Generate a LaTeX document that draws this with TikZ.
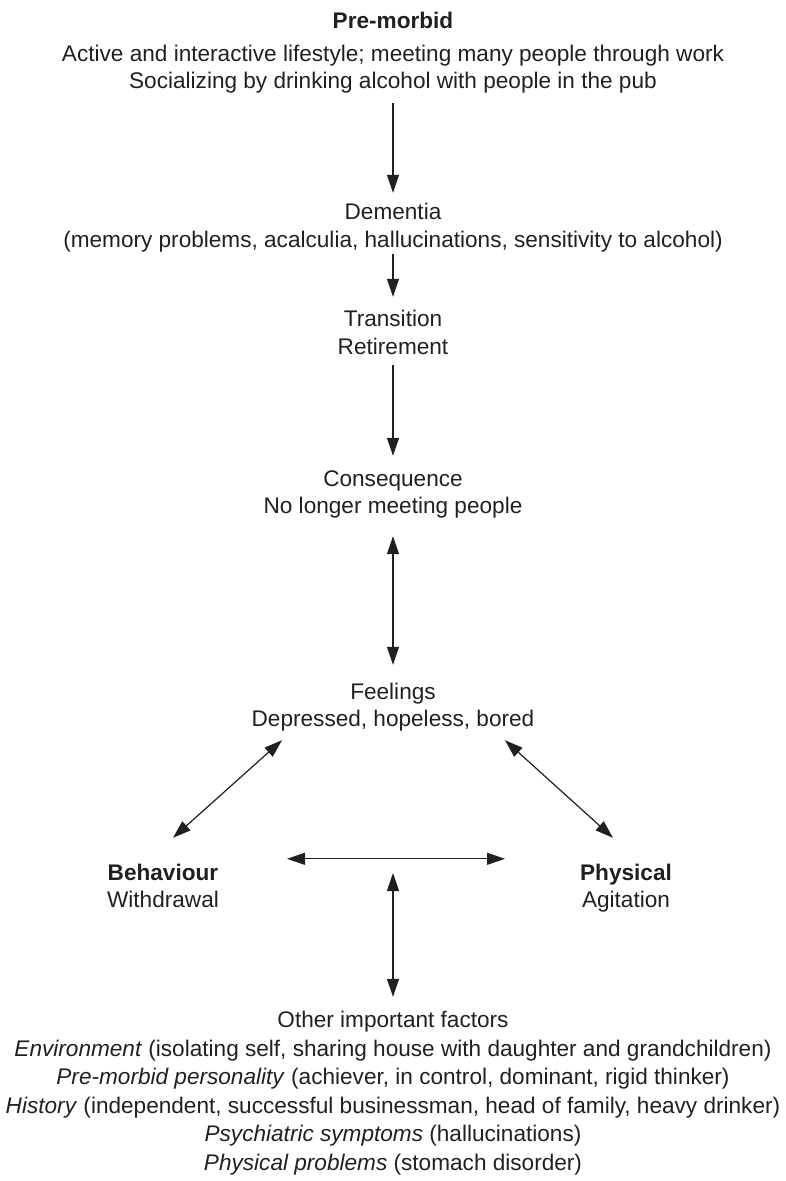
\documentclass[tikz,border=0pt]{standalone}
\usepackage{fontspec}
\setmainfont{Liberation Sans}
\usetikzlibrary{arrows.meta}
\definecolor{ink}{RGB}{35,31,32}
\begin{document}
\begin{tikzpicture}[x=1pt,y=-1pt,
  txt/.style={inner sep=0pt, anchor=base, text height=16pt, text depth=5pt,
    font=\fontsize{22.6}{27}\selectfont, text=ink},
  tip/.tip={Triangle[length=18pt,width=12pt]},
  arr/.style={-tip, line width=1.2pt, draw=ink, fill=ink},
  darr/.style={tip-tip, line width=1.2pt, draw=ink, fill=ink}]
\useasboundingbox (0,0) rectangle (786,1181);

\node[txt] (pre1) at (393,28) {\textbf{Pre-morbid}};
\node[txt] (pre2) at (393,61) {Active and interactive lifestyle; meeting many people through work};
\node[txt] (pre3) at (393,88) {Socializing by drinking alcohol with people in the pub};

\node[txt] (dem1) at (393,219) {Dementia};
\node[txt] (dem2) at (393,247) {(memory problems, acalculia, hallucinations, sensitivity to alcohol)};

\node[txt] (tra1) at (393,326) {Transition};
\node[txt] (tra2) at (393,354) {Retirement};

\node[txt] (con1) at (393,486) {Consequence};
\node[txt] (con2) at (393,513) {No longer meeting people};

\node[txt] (fee1) at (393,699) {Feelings};
\node[txt] (fee2) at (393,726) {Depressed, hopeless, bored};

\node[txt] (beh1) at (163,880) {\textbf{Behaviour}};
\node[txt] (beh2) at (163,907) {Withdrawal};

\node[txt] (phy1) at (626,880) {\textbf{Physical}};
\node[txt] (phy2) at (626,907) {Agitation};

\node[txt] (oth1) at (393,1027) {Other important factors};
\node[txt] (oth2) at (393,1056) {\textit{Environment} (isolating self, sharing house with daughter and grandchildren)};
\node[txt] (oth3) at (393,1084) {\textit{Pre-morbid personality} (achiever, in control, dominant, rigid thinker)};
\node[txt] (oth4) at (393,1113) {\textit{History} (independent, successful businessman, head of family, heavy drinker)};
\node[txt] (oth5) at (393,1141) {\textit{Psychiatric symptoms} (hallucinations)};
\node[txt] (oth6) at (393,1170) {\textit{Physical problems} (stomach disorder)};

\coordinate (link) at (393,873);

\draw[arr] ([yshift=-10pt]pre3.south) -- ([yshift=10pt]dem1.north);
\draw[arr] ([yshift=-2pt]dem2.south) -- ([yshift=13pt]tra1.north);
\draw[arr] ([yshift=-6pt]tra2.south) -- ([yshift=14pt]con1.north);
\draw[darr] ([yshift=-18pt]con2.south) -- ([yshift=18pt]fee1.north);
\draw[darr] ([xshift=-111pt,yshift=-9pt]fee2.south) -- ([xshift=10pt,yshift=26pt]beh1.north);
\draw[darr] ([xshift=112pt,yshift=-9pt]fee2.south) -- ([xshift=-13pt,yshift=26pt]phy1.north);
\draw[darr] ([xshift=124pt,yshift=5pt]beh1.north) -- ([xshift=-121pt,yshift=5pt]phy1.north);
\draw[darr] (link) -- ([yshift=14pt]oth1.north);
\end{tikzpicture}
\end{document}
